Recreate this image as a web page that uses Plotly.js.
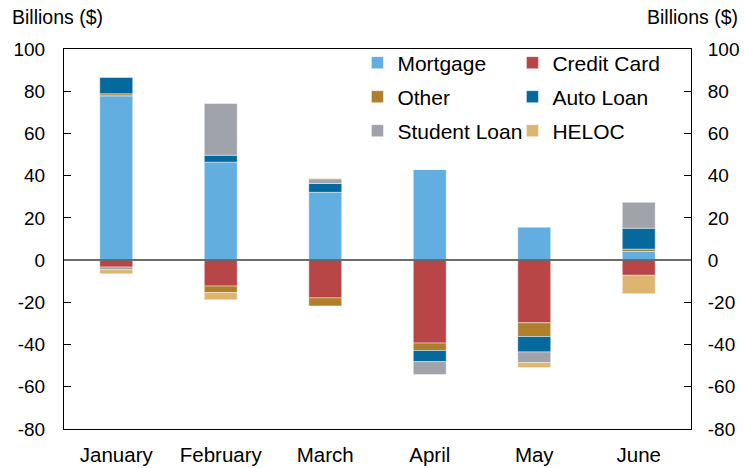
<!DOCTYPE html>
<html>
<head>
<meta charset="utf-8">
<script src="https://cdn.plot.ly/plotly-3.0.1.min.js"></script>
<style>html,body{margin:0;padding:0;background:#fff;}#chart{width:744px;height:468px;}</style>
</head>
<body>
<div id="chart"></div>
<script>
const months = ["January", "February", "March", "April", "May", "June"];
const mortgage    = [77.8, 46.4, 32.1, 42.9, 15.6, 4.1];
const creditCard  = [-3.3, -12.3, -17.9, -39.3, -29.7, -7.2];
const other       = [1.0, -3.1, -3.8, -3.5, -6.5, 1.1];
const autoLoan    = [7.7, 3.3, 4.2, -5.3, -7.3, 9.9];
const studentLoan = [-1.3, 24.5, 2.2, -6.1, -5.1, 12.3];
const heloc       = [-1.9, -3.4, 0.3, 0, -2.3, -8.7];
const yTicks = [-80, -60, -40, -20, 0, 20, 40, 60, 80, 100];

const series = [
  {name: "Mortgage", y: mortgage, color: "#62aee0", legend: "legend"},
  {name: "Credit Card", y: creditCard, color: "#b94646", legend: "legend"},
  {name: "Other", y: other, color: "#b07f2c", legend: "legend2"},
  {name: "Auto Loan", y: autoLoan, color: "#05699e", legend: "legend2"},
  {name: "Student Loan", y: studentLoan, color: "#a0a3aa", legend: "legend3"},
  {name: "HELOC", y: heloc, color: "#ddb56e", legend: "legend3"}
];

const traces = series.map(s => ({
  type: "bar",
  name: s.name,
  x: months,
  y: s.y,
  legend: s.legend,
  marker: {color: s.color, line: {color: "rgba(255,255,255,0.55)", width: 0.8}},
  hoverinfo: "name+y"
}));

const fam = "Liberation Sans, Arial, Helvetica, sans-serif";
const font = {family: fam, size: 19, color: "#000"};
const legendFont = {family: fam, size: 21, color: "#000"};
const catFont = {family: fam, size: 20.5, color: "#000"};
const legendBase = {
  orientation: "h", xref: "paper", yref: "paper", xanchor: "left", yanchor: "middle",
  entrywidth: 110, entrywidthmode: "pixels", bgcolor: "rgba(0,0,0,0)",
  font: legendFont, itemclick: false, itemdoubleclick: false, traceorder: "normal"
};

const yaxisBase = {
  range: [-80, 100], tickvals: yTicks, ticktext: yTicks.map(String),
  ticks: "inside", ticklen: 7, tickwidth: 1, tickcolor: "#000",
  showgrid: false, zeroline: false, showline: true, linecolor: "#000", linewidth: 1,
  tickfont: font, fixedrange: true
};

const legX = 0.468;

const layout = {
  width: 744, height: 468,
  margin: {l: 64, r: 53, t: 49, b: 39, pad: 0},
  paper_bgcolor: "#fff", plot_bgcolor: "#fff",
  font: font,
  barmode: "relative",
  bargap: 0.685,
  showlegend: true,
  xaxis: {
    type: "category", showgrid: false, zeroline: false,
    showline: true, mirror: true, linecolor: "#000", linewidth: 1,
    ticks: "", tickfont: catFont, ticklabelstandoff: 7, fixedrange: true
  },
  yaxis: Object.assign({}, yaxisBase, {side: "left", ticklabelstandoff: 14}),
  yaxis2: Object.assign({}, yaxisBase, {side: "right", overlaying: "y", anchor: "x", ticklabelstandoff: 12}),
  legend: Object.assign({}, legendBase, {x: legX, y: 1 - (63 - 49) / 380}),
  legend2: Object.assign({}, legendBase, {x: legX, y: 1 - (97 - 49) / 380}),
  legend3: Object.assign({}, legendBase, {x: legX, y: 1 - (131 - 49) / 380}),
  shapes: [{
    type: "line", xref: "paper", x0: 0, x1: 1, yref: "y", y0: 0, y1: 0,
    line: {color: "#6b6b6b", width: 2}, layer: "above"
  }],
  annotations: [
    {text: "Billions ($)", xref: "paper", yref: "paper", x: -0.086, y: 1.084, xanchor: "left", yanchor: "middle", showarrow: false, font: {family: fam, size: 19.5, color: "#000"}},
    {text: "Billions ($)", xref: "paper", yref: "paper", x: 1.078, y: 1.084, xanchor: "right", yanchor: "middle", showarrow: false, font: {family: fam, size: 19.5, color: "#000"}}
  ]
};

traces.push({type: "scatter", x: [], y: [], yaxis: "y2", showlegend: false, hoverinfo: "skip"});

Plotly.newPlot("chart", traces, layout, {displayModeBar: false, staticPlot: true});
</script>
</body>
</html>
